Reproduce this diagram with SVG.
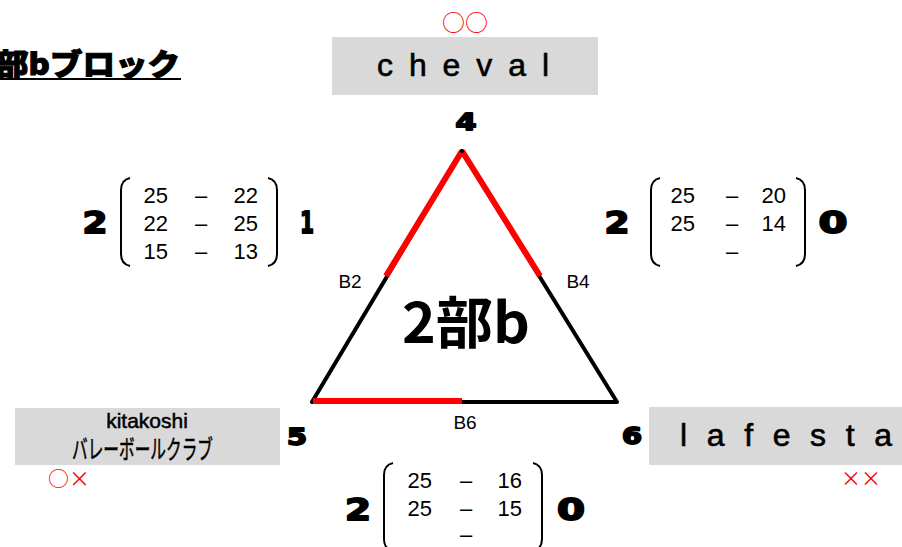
<svg xmlns="http://www.w3.org/2000/svg" width="902" height="547" viewBox="0 0 902 547">
<style>
.box{fill:#d9d9d9}
.heavy{font-family:"DejaVu Sans","Noto Sans CJK JP",sans-serif;font-weight:bold;fill:#000;stroke:#000;stroke-width:1.8;stroke-linejoin:round;text-anchor:middle}
.team{font-family:"Liberation Sans","Noto Sans CJK JP",sans-serif;font-size:32px;fill:#000;stroke:#000;stroke-width:0.6}
.mark{font-family:"Noto Sans CJK JP",sans-serif;fill:#ff0000;text-anchor:middle}
.score{font-family:"Liberation Sans",sans-serif;font-size:22px;fill:#000}
.r{text-anchor:end}
.m{text-anchor:middle}
.br{fill:none;stroke:#000;stroke-width:2}
.lbl{font-family:"Liberation Sans",sans-serif;font-size:19px;fill:#000;text-anchor:middle}
.blk{stroke:#000;stroke-width:4;stroke-linecap:round;fill:none}
.red{stroke:#ff0000;stroke-width:6;stroke-linecap:butt;fill:none}
</style>

<g id="title">
<text x="-4" y="75" font-family="Noto Sans CJK JP,sans-serif" font-weight="900" font-size="30" textLength="184" lengthAdjust="spacingAndGlyphs" fill="#000" stroke="#000" stroke-width="1">部bブロック</text>
<line x1="0" y1="79" x2="181" y2="79" stroke="#000" stroke-width="2"/>
</g>

<g id="node-cheval">
<rect class="box" x="332" y="37" width="266" height="58"/>
<text class="team" x="377" y="76" textLength="172" lengthAdjust="spacing">c h e v a l</text>
<text class="mark" x="465" y="31" font-size="23">○○</text>
<text class="heavy" x="466" y="130" font-size="23" textLength="21" lengthAdjust="spacingAndGlyphs">4</text>
</g>

<g id="node-kitakoshi">
<rect class="box" x="15" y="408" width="265" height="57"/>
<text x="147" y="428" font-family="Liberation Sans,Noto Sans CJK JP,sans-serif" font-size="21" text-anchor="middle" fill="#000" stroke="#000" stroke-width="0.5">kitakoshi</text>
<text x="72" y="459" font-family="Noto Sans CJK JP,sans-serif" font-size="26" textLength="141" lengthAdjust="spacingAndGlyphs" fill="#000" stroke="#000" stroke-width="0.5">バレーボールクラブ</text>
<text class="mark" x="69" y="486" font-size="21">○×</text>
<text class="heavy" x="297" y="445" font-size="23" textLength="20" lengthAdjust="spacingAndGlyphs">5</text>
</g>

<g id="node-lafesta">
<rect class="box" x="649" y="407" width="253" height="58"/>
<text class="team" x="680" y="446" textLength="212" lengthAdjust="spacing">l a f e s t a</text>
<text class="mark" x="861" y="486" font-size="20">××</text>
<text class="heavy" x="632" y="444" font-size="23" textLength="20" lengthAdjust="spacingAndGlyphs">6</text>
</g>

<g id="connectors">
<polygon class="blk" points="462,151 312,402 617,402" stroke-linejoin="round"/>
<line class="red" x1="462" y1="151" x2="386" y2="276"/>
<line class="red" x1="462" y1="151" x2="540" y2="276"/>
<line class="red" x1="313" y1="401" x2="462" y2="401"/>
<circle cx="462" cy="151" r="2" fill="#000"/>
<text class="lbl" x="350" y="288">B2</text>
<text class="lbl" x="578" y="288">B4</text>
<text class="lbl" x="465" y="429">B6</text>
</g>

<g id="center-label">
<text x="466" y="343" font-family="Noto Sans CJK JP,sans-serif" font-weight="bold" font-size="56" text-anchor="middle" textLength="128" lengthAdjust="spacingAndGlyphs" fill="#000">2部b</text>
</g>

<g id="score-B2">
<text class="heavy" x="95" y="233" font-size="30" textLength="25" lengthAdjust="spacingAndGlyphs">2</text>
<path class="br" d="M130,178 Q121,180 121,190 L121,254 Q121,264 130,266"/>
<text class="score r" x="168" y="203">25</text><text class="score m" x="201" y="203">–</text><text class="score r" x="258" y="203">22</text>
<text class="score r" x="168" y="231">22</text><text class="score m" x="201" y="231">–</text><text class="score r" x="258" y="231">25</text>
<text class="score r" x="168" y="259">15</text><text class="score m" x="201" y="259">–</text><text class="score r" x="258" y="259">13</text>
<path class="br" d="M268,178 Q277,180 277,190 L277,254 Q277,264 268,266"/>
<text class="heavy" x="307" y="233" font-size="30" textLength="14" lengthAdjust="spacingAndGlyphs">1</text>
</g>

<g id="score-B4">
<text class="heavy" x="617" y="233" font-size="30" textLength="25" lengthAdjust="spacingAndGlyphs">2</text>
<path class="br" d="M660,178 Q651,180 651,190 L651,254 Q651,264 660,266"/>
<text class="score r" x="695" y="203">25</text><text class="score m" x="732" y="203">–</text><text class="score r" x="786" y="203">20</text>
<text class="score r" x="695" y="231">25</text><text class="score m" x="732" y="231">–</text><text class="score r" x="786" y="231">14</text>
<text class="score m" x="732" y="259">–</text>
<path class="br" d="M796,178 Q805,180 805,190 L805,254 Q805,264 796,266"/>
<text class="heavy" x="833" y="233" font-size="30" textLength="29" lengthAdjust="spacingAndGlyphs">0</text>
</g>

<g id="score-B6">
<text class="heavy" x="358" y="520" font-size="30" textLength="26" lengthAdjust="spacingAndGlyphs">2</text>
<path class="br" d="M393,463 Q384,465 384,475 L384,539 Q384,549 393,551"/>
<text class="score r" x="432" y="488">25</text><text class="score m" x="466" y="488">–</text><text class="score r" x="522" y="488">16</text>
<text class="score r" x="432" y="516">25</text><text class="score m" x="466" y="516">–</text><text class="score r" x="522" y="516">15</text>
<text class="score m" x="466" y="542">–</text>
<path class="br" d="M533,463 Q542,465 542,475 L542,539 Q542,549 533,551"/>
<text class="heavy" x="571" y="520" font-size="30" textLength="28" lengthAdjust="spacingAndGlyphs">0</text>
</g>
</svg>
